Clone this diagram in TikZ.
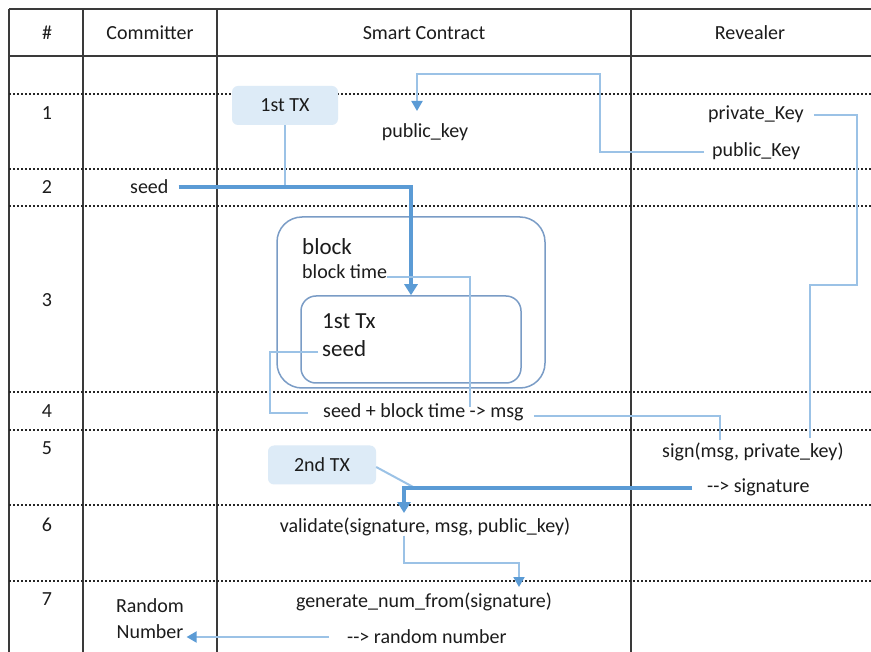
\documentclass[tikz,border=0pt]{standalone}
\usepackage{fontspec}
\setmainfont{Carlito}
\usetikzlibrary{arrows.meta}
\definecolor{txt}{HTML}{1C1C1C}
\definecolor{thinb}{HTML}{9BC2E6}
\definecolor{thickb}{HTML}{5B9BD5}
\definecolor{boxb}{HTML}{7A9CC6}
\definecolor{txfill}{HTML}{DDEBF7}
\definecolor{gridc}{HTML}{3A3A3A}
\begin{document}
\begin{tikzpicture}[x=1pt,y=-1pt,
 lbl/.style={inner sep=0pt, text=txt, font=\fontsize{20}{24}\selectfont},
 big/.style={inner sep=0pt, text=txt, font=\fontsize{23}{27}\selectfont},
 gridline/.style={line width=2pt, draw=gridc},
 dots/.style={line width=1.3pt, dash pattern=on 2pt off 2pt, draw=black!85},
 thinc/.style={line width=2pt, draw=thinb},
 thickc/.style={line width=4.5pt, draw=thickb},
 tipL/.style={-{Triangle[width=13pt,length=11pt,color=thickb]}},
 tipS/.style={-{Triangle[width=11pt,length=10pt,color=thickb]}},
 txbox/.style={fill=txfill, rounded corners=6pt, minimum width=#1, minimum height=39pt, inner sep=0pt, text=txt, font=\fontsize{20}{24}\selectfont},
 rbox/.style={draw=boxb, line width=1.5pt, rounded corners=#1, inner sep=0pt}
]
\useasboundingbox (0,0) rectangle (871,652);
\fill[white] (0,0) rectangle (871,652);

% table
\draw[gridline] (9,9) -- (871,9);
\draw[gridline] (9,56) -- (871,56);
\foreach \x in {9,83,217,631} \draw[gridline] (\x,9) -- (\x,652);
\foreach \y in {94,169,206,392,430,505,581} \draw[dots] (9,\y) -- (871,\y);

% headers
\node[lbl, anchor=base] (hN) at (47,40) {\#};
\node[lbl, anchor=base] (hC) at (150,40) {Committer};
\node[lbl, anchor=base] (hS) at (424,40) {Smart Contract};
\node[lbl, anchor=base] (hR) at (750,40) {Revealer};

% row numbers
\node[lbl, anchor=base] (r1) at (47,120) {1};
\node[lbl, anchor=base] (r2) at (47,194) {2};
\node[lbl, anchor=base] (r3) at (47,307) {3};
\node[lbl, anchor=base] (r4) at (47,418) {4};
\node[lbl, anchor=base] (r5) at (47,455) {5};
\node[lbl, anchor=base] (r6) at (47,531) {6};
\node[lbl, anchor=base] (r7) at (47,605) {7};

% boxes
\node[rbox=25pt, minimum width=268pt, minimum height=171pt] (blk) at (411,302.5) {};
\node[rbox=15pt, minimum width=220pt, minimum height=87pt] (inner) at (411,339.5) {};
\node[txbox=106pt] (tx1) at (285,105.5) {1st TX};
\node[txbox=108pt] (tx2) at (322,465) {2nd TX};

% texts
\node[lbl, anchor=base] (pubK) at (425,138) {public\_key};
\node[lbl, anchor=base west] (privR) at (708,120) {private\_Key};
\node[lbl, anchor=base west] (pubR) at (712,157) {public\_Key};
\node[lbl, anchor=base west] (seedC) at (130,194) {seed};
\node[big, anchor=base west] (blkT) at (302,255) {block};
\node[lbl, anchor=base west] (bt) at (302,279) {block time};
\node[big, anchor=base west] (itx) at (322,329) {1st Tx};
\node[big, anchor=base west] (iseed) at (322,357) {seed};
\node[lbl, anchor=base west] (msg) at (323,418) {seed + block time -> msg};
\node[lbl, anchor=base west] (sign) at (662,457) {sign(msg, private\_key)};
\node[lbl, anchor=base west] (sigR) at (707,493) {-\kern0pt-> signature};
\node[lbl, anchor=base] (valid) at (425,532) {validate(signature, msg, public\_key)};
\node[lbl, anchor=base] (gen) at (424,607) {generate\_num\_from(signature)};
\node[lbl, anchor=base west] (rnd) at (347,643) {-\kern0pt-> random number};
\node[lbl, anchor=base] (rand) at (150,612) {Random};
\node[lbl, anchor=base] (numb) at (150,638) {Number};

% coordinates for free ends
\coordinate (pktip) at (417,111);
\coordinate (prvend) at (810,438);
\coordinate (btend) at (470,407);
\coordinate (sgin) at (720,440);
\coordinate (vtip) at (404,513);
\coordinate (j2) at (415,488);
\coordinate (gtip) at (519,587);

% connectors
\draw[thinc] (tx1.south) -- (tx1.south |- seedC.east);
\draw[thickc, tipL] ([xshift=10pt]seedC.east) -| (inner.north);
\draw[thinc, tipS] ([xshift=-8pt]pubR.west) -| (600,74) -| (pktip);
\draw[thinc] ([xshift=10pt]privR.east) -| (857,285) -| (prvend);
\draw[thinc] ([yshift=2pt]bt.base east) -| (btend);
\draw[thinc] ([shift={(-4pt,5pt)}]iseed.base west) -- ++(-48,0) |- ([xshift=-15pt]msg.west);
\draw[thinc] ([shift={(10pt,-3pt)}]msg.east) -| (sgin);
\draw[thinc] ([yshift=-2pt]tx2.east) -- (j2);
\draw[thickc, tipL] ([xshift=-15pt]sigR.west) -| (vtip);
\draw[thinc, tipS] (valid.south -| vtip) -- (404,563) -| (gtip);
\draw[thinc, tipS] ([shift={(-18pt,6pt)}]rnd.base west) -- ([shift={(3pt,1pt)}]numb.base east);
\end{tikzpicture}
\end{document}
